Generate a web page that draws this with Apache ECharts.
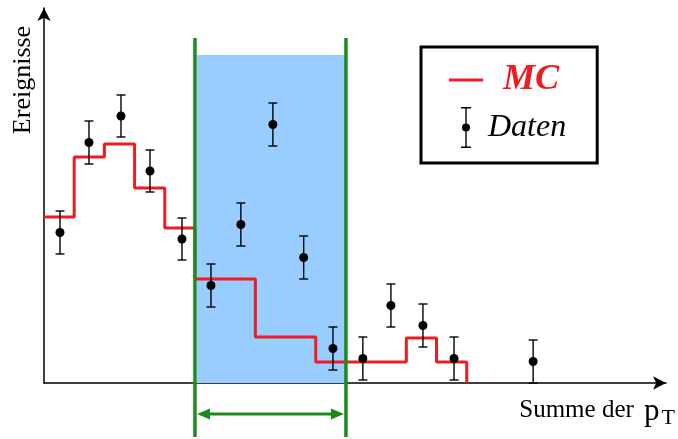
<!DOCTYPE html>
<html><head><meta charset="utf-8">
<script src="https://cdn.jsdelivr.net/npm/echarts@6/dist/echarts.min.js"></script>
<style>html,body{margin:0;padding:0;background:#fff}#c{width:678px;height:439px}</style>
</head><body><div id="c"></div>
<script>
// MC histogram: bin edges and bin contents
const mcEdges = [0, 1, 2, 3, 4, 5, 7, 9, 12, 13, 14];
const mcValues = [16.6, 22.6, 23.9, 19.5, 15.5, 10.4, 4.6, 2.1, 4.5, 2.1];
// Data points (x, y, error)
const dataX = [0.53, 1.49, 2.55, 3.51, 4.57, 5.53, 6.52, 7.58, 8.6, 9.57, 10.56, 11.49, 12.55, 13.58, 16.2];
const dataY = [15.05, 24.05, 26.7, 21.2, 14.4, 9.75, 15.85, 25.85, 12.55, 3.45, 2.45, 7.75, 5.75, 2.45, 2.15];
const dataErr = [2.15, 2.15, 2.1, 2.1, 2.1, 2.15, 2.15, 2.15, 2.15, 2.15, 2.15, 2.15, 2.15, 2.15, 2.15];
// Selected window in "Summe der pT"
const windowRange = [5, 10];
// Labels
const xLabel = 'Summe der ';
const xLabelP = 'p';
const xLabelSub = 'T';
const yLabel = 'Ereignisse';
const seriesNames = ['MC', 'Daten'];

const RED = '#ee1b22', GREEN = '#1b8c1b', BLUE = '#99ccff';
const SERIF = '"Liberation Serif", "Times New Roman", serif';

const mcLine = [];
mcValues.forEach((v, i) => { mcLine.push([mcEdges[i], v]); mcLine.push([mcEdges[i + 1], v]); });
mcLine.push([mcEdges[mcEdges.length - 1], 0]);

const chart = echarts.init(document.getElementById('c'), null, {renderer: 'canvas'});
const errIcon = 'path://M0,0H10V1.5H0Z M4.3,0H5.7V41H4.3Z M0,39.5H10V41H0Z M1,20.5A4,4 0 1,1 9,20.5A4,4 0 1,1 1,20.5Z';

chart.setOption({
  animation: false,
  backgroundColor: '#fff',
  grid: {left: 44, right: 12, top: 8, bottom: 56},
  xAxis: {
    type: 'value', min: 0, max: 20.6,
    axisLine: {show: true, symbol: ['none', 'arrow'], symbolSize: [10, 13], lineStyle: {color: '#000', width: 1.5}},
    axisTick: {show: false}, axisLabel: {show: false}, splitLine: {show: false},
    name: '{a|' + xLabel + '}{p|' + xLabelP + '}{t|' + xLabelSub + '}',
    nameLocation: 'end', nameGap: 9,
    nameTextStyle: {
      align: 'right', verticalAlign: 'top', padding: [8, 0, 0, 0],
      fontFamily: SERIF, fontSize: 25, color: '#000',
      rich: {
        a: {fontFamily: SERIF, fontSize: 25, color: '#000', padding: [0, 4, 0, 0]},
        p: {fontFamily: SERIF, fontSize: 31, color: '#000', padding: [4, 2, 0, 0]},
        t: {fontFamily: SERIF, fontSize: 22, color: '#000', padding: [16, 0, 0, 0]}
      }
    }
  },
  yAxis: {
    type: 'value', min: 0, max: 37.5,
    axisLine: {show: true, symbol: ['none', 'arrow'], symbolSize: [10, 13], lineStyle: {color: '#000', width: 1.5}},
    axisTick: {show: false}, axisLabel: {show: false}, splitLine: {show: false}
  },
  graphic: [{
    type: 'text', x: 23, y: 80, rotation: Math.PI / 2,
    style: {text: yLabel, font: '26px ' + SERIF, fill: '#000', align: 'center', verticalAlign: 'middle'}
  }],
  legend: {
    orient: 'vertical', left: 421, top: 47,
    data: [{name: seriesNames[0], icon: 'path://M0,0H34V3H0Z'}, {name: seriesNames[1], icon: errIcon}],
    itemWidth: 34, itemHeight: 41, itemGap: 9,
    padding: [15, 31, 15, 28],
    borderColor: '#000', borderWidth: 3, backgroundColor: '#fff',
    selectedMode: false,
    itemStyle: {borderWidth: 0},
    formatter: n => n === 'MC' ? '{mc|MC}' : '{d|Daten}',
    textStyle: {
      rich: {
        mc: {fontFamily: SERIF, fontSize: 36, fontStyle: 'italic', fontWeight: 'bold', color: RED, padding: [0, 0, 0, 15]},
        d: {fontFamily: SERIF, fontSize: 32, fontStyle: 'italic', color: '#000'}
      }
    }
  },
  series: [
    {
      name: 'window', type: 'custom', z: 1, silent: true, clip: false,
      data: [windowRange],
      renderItem: (params, api) => {
        const a = api.coord([api.value(0), 0]);
        const b = api.coord([api.value(1), 32.8]);
        return {type: 'rect', shape: {x: a[0] + 2, y: b[1], width: b[0] - a[0] - 3, height: a[1] - b[1]}, style: {fill: BLUE}};
      }
    },
    {
      name: 'MC', type: 'line', data: mcLine, z: 3, symbol: 'none',
      lineStyle: {color: RED, width: 3}, itemStyle: {color: RED}
    },
    {
      name: 'window-lines', type: 'custom', z: 4, silent: true, clip: false,
      data: [windowRange],
      renderItem: (params, api) => {
        const t0 = api.coord([api.value(0), 34.5]);
        const b0 = api.coord([api.value(0), -5.4]);
        const t1 = api.coord([api.value(1), 34.5]);
        const b1 = api.coord([api.value(1), -5.4]);
        const ya = api.coord([0, -3.1])[1];
        const xa = t0[0] + 2, xb = t1[0] - 2;
        const st = {stroke: GREEN, lineWidth: 3.5};
        return {type: 'group', children: [
          {type: 'line', shape: {x1: t0[0], y1: t0[1], x2: b0[0], y2: b0[1]}, style: st},
          {type: 'line', shape: {x1: t1[0], y1: t1[1], x2: b1[0], y2: b1[1]}, style: st},
          {type: 'line', shape: {x1: xa + 6, y1: ya, x2: xb - 6, y2: ya}, style: {stroke: GREEN, lineWidth: 3}},
          {type: 'polygon', shape: {points: [[xa, ya], [xa + 13, ya - 5.5], [xa + 13, ya + 5.5]]}, style: {fill: GREEN}},
          {type: 'polygon', shape: {points: [[xb, ya], [xb - 13, ya - 5.5], [xb - 13, ya + 5.5]]}, style: {fill: GREEN}}
        ]};
      }
    },
    {
      name: 'errors', type: 'custom', z: 5, silent: true,
      data: dataX.map((x, i) => [x, dataY[i], dataErr[i]]),
      renderItem: (params, api) => {
        const x = api.value(0), y = api.value(1), e = api.value(2);
        const t = api.coord([x, y + e]), b = api.coord([x, y - e]);
        const st = {stroke: '#000', lineWidth: 1.4};
        return {type: 'group', children: [
          {type: 'line', shape: {x1: t[0], y1: t[1], x2: b[0], y2: b[1]}, style: st},
          {type: 'line', shape: {x1: t[0] - 4.5, y1: t[1], x2: t[0] + 4.5, y2: t[1]}, style: st},
          {type: 'line', shape: {x1: b[0] - 4.5, y1: b[1], x2: b[0] + 4.5, y2: b[1]}, style: st}
        ]};
      }
    },
    {
      name: 'Daten', type: 'scatter', z: 6,
      data: dataX.map((x, i) => [x, dataY[i]]),
      symbolSize: 9, itemStyle: {color: '#000', opacity: 1}
    }
  ]
});
</script></body></html>
